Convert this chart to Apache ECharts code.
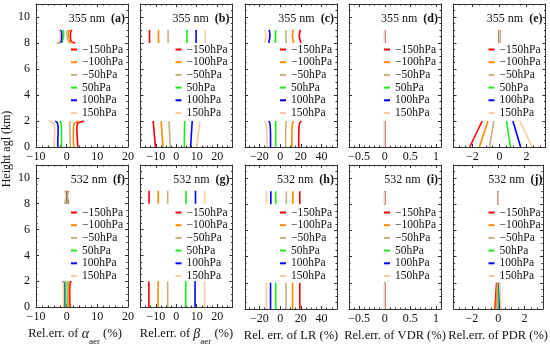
<!DOCTYPE html>
<html><head><meta charset="utf-8">
<script src="https://cdn.jsdelivr.net/npm/echarts@6/dist/echarts.min.js"></script>
<style>html,body{margin:0;padding:0;background:#fff}#c{width:550px;height:347px}</style>
</head><body><div id="c"></div>
<script>
// ---------------- data ----------------
const seriesNames = ['\u2212150hPa', '\u2212100hPa', '\u221250hPa', '50hPa', '100hPa', '150hPa'];
const heightsLowCurved = [0, 0.5, 1, 1.5, 1.85, 2];
const heightsHighCurved = [8, 8.1, 8.5, 8.9, 9];
const heightsLowStraight = [0, 2];
const heightsHighStraight = [8, 9];
const yTickLabels = [0, 2, 4, 6, 8, 10];

const panelTitles = ['355 nm', '355 nm', '355 nm', '355 nm', '355 nm', '532 nm', '532 nm', '532 nm', '532 nm', '532 nm'];
const panelLetters = ['(a)', '(b)', '(c)', '(d)', '(e)', '(f)', '(g)', '(h)', '(i)', '(j)'];
const xMins = [-10, -17.5, -34, -0.7, -3.4];
const xMaxs = [20, 27.5, 55, 1.1, 3.4];
const xTickLabels = [[-10, 0, 10, 20], [-10, 0, 10, 20], [-20, 0, 20, 40], [-0.5, 0, 0.5, 1], [-2, 0, 2]];
const xMinorSteps = [2, 2.5, 5, 0.1, 0.5];

// rows: -150, -100, -50, +50, +100, +150 hPa
const alpha355Low = [
  [3.6, 3.5, 3.4, 3.3, 3.6, 5.6],
  [2.3, 2.2, 2.2, 2.2, 2.5, 3.8],
  [1.2, 1.1, 1.1, 1.0, 1.0, 1.4],
  [-1.7, -1.7, -1.7, -1.7, -1.8, -2.2],
  [-2.9, -2.9, -2.8, -2.8, -3.0, -3.7],
  [-4.1, -4.0, -3.9, -3.9, -4.3, -5.8]];
const alpha355High = [
  [2.8, 1.4, 1.2, 1.3, 1.8],
  [2.0, 0.8, 0.6, 0.7, 1.1],
  [0.8, 0.2, 0.1, 0.1, 0.4],
  [-1.6, -1.0, -1.0, -1.0, -1.3],
  [-3.0, -1.8, -1.6, -1.7, -2.2],
  [-3.6, -2.3, -2.1, -2.2, -2.6]];
const beta355Low = [
  [-10.2, -11.3], [-6.5, -7.4], [-2.9, -3.6], [3.9, 4.1], [7.0, 7.8], [10.0, 11.6]];
const beta355High = [
  [-13.1, -13.1], [-8.7, -8.7], [-4.0, -4.0], [5.2, 5.2], [9.7, 9.7], [14.2, 14.2]];
const lr355Low = [
  [18, 18, 18, 18.2, 18.8, 20.5],
  [11.3, 11.3, 11.3, 11.5, 12, 13],
  [5.3, 5.3, 5.3, 5.4, 5.6, 6],
  [-4.3, -4.3, -4.3, -4.3, -4.4, -4.6],
  [-9.3, -9.3, -9.3, -9.5, -10, -11],
  [-12.7, -12.7, -12.7, -13, -13.8, -15]];
const lr355High = [
  [20, 19, 18.5, 19, 20],
  [13, 12.2, 11.8, 12.2, 13],
  [6, 5.7, 5.5, 5.7, 6],
  [-4.6, -4.4, -4.3, -4.4, -4.6],
  [-11, -10.2, -9.8, -10.2, -11],
  [-15, -14.2, -13.6, -14.2, -15]];
const vdr355Low = [[0, 0], [0, 0], [0, 0], [0, 0], [0, 0], [0, 0]];
const vdr355High = [[0, 0], [0, 0], [0, 0], [0, 0], [0, 0], [0, 0]];
const pdr355Low = [
  [-2.2, -1.28], [-1.48, -0.86], [-0.74, -0.42], [0.81, 0.52], [1.56, 0.99], [2.42, 1.5]];
const pdr355High = [
  [-0.02, -0.02], [0, 0], [0, 0], [0.01, 0.01], [0.01, 0.01], [0.02, 0.02]];

const alpha532Low = [
  [1.1, 1.0, 1.0, 1.0, 1.1, 1.5],
  [0.6, 0.6, 0.6, 0.6, 0.7, 0.9],
  [0.3, 0.3, 0.3, 0.3, 0.3, 0.4],
  [-0.3, -0.3, -0.3, -0.3, -0.3, -0.4],
  [-0.8, -0.8, -0.8, -0.8, -0.9, -1.2],
  [-1.0, -1.0, -1.0, -1.0, -1.1, -1.4]];
const alpha532High = [
  [0.5, 0.3, 0.2, 0.3, 0.5],
  [0.3, 0.2, 0.1, 0.2, 0.3],
  [0.1, 0.05, 0, 0.05, 0.1],
  [-0.2, -0.1, -0.1, -0.1, -0.2],
  [-0.5, -0.3, -0.2, -0.3, -0.5],
  [-0.6, -0.4, -0.3, -0.4, -0.6]];
const beta532Low = [
  [-13.4, -13.4], [-8.9, -8.9], [-4.2, -4.2], [4.6, 4.6], [9.2, 9.2], [13.8, 13.8]];
const beta532High = [
  [-13.3, -13.3], [-8.8, -8.8], [-4.2, -4.2], [4.8, 4.8], [9.4, 9.4], [13.9, 13.9]];
const lr532Low = [
  [19, 19], [12, 12], [5.7, 5.7], [-4.3, -4.3], [-9.3, -9.3], [-13.3, -13.3]];
const lr532High = [
  [19, 19], [12.3, 12.3], [6, 6], [-4.3, -4.3], [-9, -9], [-13.3, -13.3]];
const vdr532Low = [[0, 0], [0, 0], [0, 0], [0, 0], [0, 0], [0, 0]];
const vdr532High = [[0, 0], [0, 0], [0, 0], [0, 0], [0, 0], [0, 0]];
const pdr532Low = [
  [-0.25, -0.12], [-0.17, -0.07], [-0.08, -0.03], [0.05, 0.03], [0.13, 0.08], [0.2, 0.1]];
const pdr532High = [[0, 0], [0, 0], [0, 0], [0, 0], [0, 0], [0, 0]];

const xAxisNames = [
  '{n|Rel.err. of }{g|\u03b1}{s|aer}{n| (%)}',
  '{n|Rel.err. of }{g|\u03b2}{s|aer}{n| (%)}',
  '{n|Rel. err. of LR (%)}',
  '{n|Rel.err. of VDR (%)}',
  '{n|Rel.err. of PDR (%)}'];

// ---------------- build ----------------
const seriesColors = ['#ff0000', '#ff8a00', '#c2b47c', '#1ee81e', '#0000ff', '#ffc9a6'];
const FONT = '"Liberation Serif", "Times New Roman", serif';
const panels = [
  [alpha355Low, alpha355High, heightsLowCurved, heightsHighCurved],
  [beta355Low, beta355High, heightsLowStraight, heightsHighStraight],
  [lr355Low, lr355High, heightsLowCurved, heightsHighCurved],
  [vdr355Low, vdr355High, heightsLowStraight, heightsHighStraight],
  [pdr355Low, pdr355High, heightsLowStraight, heightsHighStraight],
  [alpha532Low, alpha532High, heightsLowCurved, heightsHighCurved],
  [beta532Low, beta532High, heightsLowStraight, heightsHighStraight],
  [lr532Low, lr532High, heightsLowStraight, heightsHighStraight],
  [vdr532Low, vdr532High, heightsLowStraight, heightsHighStraight],
  [pdr532Low, pdr532High, heightsLowStraight, heightsHighStraight]];

const gridLefts = [36, 140.5, 245, 349, 453.5];
const gridW = 92;
const rowTops = [4, 165];
const rowHs = [143, 144];
const Y_MIN = 0, Y_MAX = 11;

function range(min, max, step) {
  const out = [];
  const start = Math.ceil(min / step - 1e-9) * step;
  for (let v = start; v <= max + 1e-9; v += step) out.push(+v.toFixed(6));
  return out;
}
const fmt = v => String(v).replace('-', '\u2212');
const axisColor = '#333';

const grids = [], xAxes = [], yAxes = [], series = [], legends = [], graphics = [];

for (let p = 0; p < 10; p++) {
  const col = p % 5, row = Math.floor(p / 5);
  const left = gridLefts[col], top = rowTops[row], h = rowHs[row];
  grids.push({left: left, top: top, width: gridW, height: h, containLabel: false});
  const xmin = xMins[col], xmax = xMaxs[col];
  const majors = xTickLabels[col];
  const minors = range(xmin, xmax, xMinorSteps[col]);
  const yMinors = range(Y_MIN, Y_MAX, 0.5);
  const yMajors = range(Y_MIN, Y_MAX, 2);
  ['bottom', 'top', 'bottom', 'top'].forEach((pos, k) => {
    const isMajor = k < 2;
    const ax = {
      type: 'value', gridIndex: p, position: pos, min: xmin, max: xmax,
      splitLine: {show: false},
      axisLine: {show: isMajor, onZero: false, lineStyle: {color: axisColor, width: 1}},
      axisTick: {show: true, inside: true, length: isMajor ? 3 : 1.5, customValues: isMajor ? majors : minors,
                 lineStyle: {color: axisColor, width: 1}},
      axisLabel: {show: k === 0, customValues: majors, formatter: fmt, margin: 4,
                  fontFamily: FONT, fontSize: 12, color: '#111'},
      silent: true
    };
    if (k === 0 && row === 1) {
      ax.name = xAxisNames[col];
      ax.nameLocation = 'middle';
      ax.nameGap = 20;
      ax.nameTextStyle = {
        fontFamily: FONT, fontSize: 12, color: '#111',
        padding: col === 0 ? [0, 14, 0, 0] : 0,
        rich: {
          n: {fontFamily: FONT, fontSize: 12.5, color: '#111', lineHeight: 16, verticalAlign: 'top'},
          g: {fontFamily: FONT, fontSize: 14, fontStyle: 'italic', color: '#111', lineHeight: 16, verticalAlign: 'top'},
          s: {fontFamily: FONT, fontSize: 9, color: '#111', lineHeight: 10, verticalAlign: 'top', padding: [10, 0, 0, 0]}
        }
      };
    }
    xAxes.push(ax);
  });
  ['left', 'right', 'left', 'right'].forEach((pos, k) => {
    const isMajor = k < 2;
    yAxes.push({
      type: 'value', gridIndex: p, position: pos, min: Y_MIN, max: Y_MAX,
      splitLine: {show: false},
      axisLine: {show: isMajor, onZero: false, lineStyle: {color: axisColor, width: 1}},
      axisTick: {show: true, inside: true, length: isMajor ? 3 : 1.5, customValues: isMajor ? yMajors : yMinors,
                 lineStyle: {color: axisColor, width: 1}},
      axisLabel: {show: k === 0 && col === 0, customValues: yTickLabels, margin: 6,
                  fontFamily: FONT, fontSize: 12, color: '#111'},
      silent: true
    });
  });
  const [lowVals, highVals, hLow, hHigh] = panels[p];
  for (let s = 0; s < 6; s++) {
    [[lowVals[s], hLow], [highVals[s], hHigh]].forEach(([vals, hs]) => {
      series.push({
        type: 'line', name: seriesNames[s], xAxisIndex: 4 * p, yAxisIndex: 4 * p,
        data: hs.map((hh, i) => [vals[i], hh]),
        showSymbol: false, symbol: 'none', silent: true, animation: false,
        lineStyle: {width: 1.6, color: seriesColors[s]}, itemStyle: {color: seriesColors[s]},
        z: 2 + s
      });
    });
  }
  legends.push({
    data: seriesNames, orient: 'vertical', left: left + 35, top: top + (row === 0 ? 39.5 : 41.5),
    itemWidth: 6, itemHeight: 2, itemGap: 0.7, icon: 'rect', padding: 0, selectedMode: false,
    textStyle: {fontFamily: FONT, fontSize: 11.5, lineHeight: 12, color: '#111'}
  });
  graphics.push({
    type: 'text', x: left + gridW - 3, y: top + 15,
    style: {
      text: '{n|' + panelTitles[p] + '  }{b|' + panelLetters[p] + '}',
      align: 'right', verticalAlign: 'middle',
      rich: {
        n: {fontFamily: FONT, fontSize: 12, fill: '#111'},
        b: {fontFamily: FONT, fontSize: 12, fontWeight: 'bold', fill: '#111'}
      }
    }
  });
}
graphics.push({
  type: 'text', x: 7, y: 149, rotation: Math.PI / 2,
  style: {text: 'Height agl (km)', fontFamily: FONT, fontSize: 12, fill: '#111', align: 'center', verticalAlign: 'middle'}
});

const chart = echarts.init(document.getElementById('c'), null, {renderer: 'canvas'});
chart.setOption({
  animation: false,
  backgroundColor: '#fff',
  grid: grids, xAxis: xAxes, yAxis: yAxes, series: series, legend: legends, graphic: graphics
});
</script></body></html>
